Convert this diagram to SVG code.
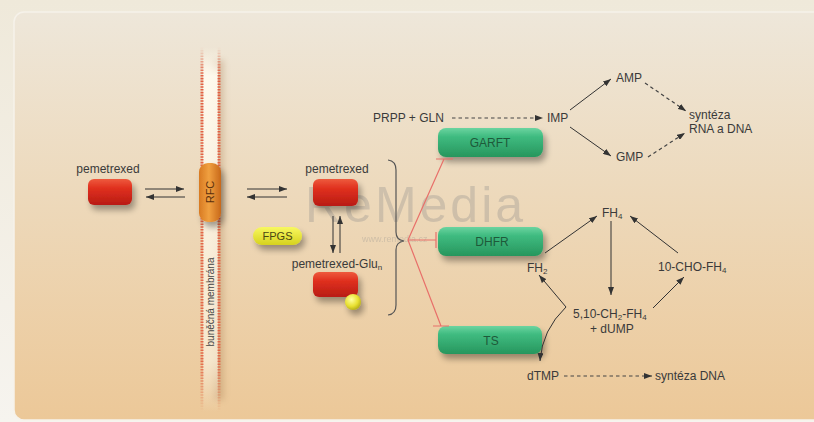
<svg xmlns="http://www.w3.org/2000/svg" width="814" height="422" viewBox="0 0 814 422">
<defs>
<linearGradient id="bgOuter" x1="0" y1="0" x2="0" y2="1"><stop offset="0" stop-color="#efe9da"/><stop offset="1" stop-color="#f6f4ef"/></linearGradient>
<linearGradient id="panel" x1="0" y1="0" x2="0" y2="1"><stop offset="0" stop-color="#eee7da"/><stop offset="0.45" stop-color="#edd9bb"/><stop offset="1" stop-color="#ecc898"/></linearGradient>
<linearGradient id="red" x1="0" y1="0" x2="0" y2="1"><stop offset="0" stop-color="#ee5a3c"/><stop offset="0.35" stop-color="#e0301f"/><stop offset="1" stop-color="#b81c14"/></linearGradient>
<linearGradient id="green" x1="0" y1="0" x2="0" y2="1"><stop offset="0" stop-color="#6bd4a0"/><stop offset="0.3" stop-color="#3fbb80"/><stop offset="1" stop-color="#27965d"/></linearGradient>
<linearGradient id="orange" x1="0" y1="0" x2="1" y2="0"><stop offset="0" stop-color="#d87a22"/><stop offset="0.45" stop-color="#f0a040"/><stop offset="1" stop-color="#c8681a"/></linearGradient>
<linearGradient id="yellow" x1="0" y1="0" x2="0" y2="1"><stop offset="0" stop-color="#f8f860"/><stop offset="1" stop-color="#d6d21e"/></linearGradient>
<radialGradient id="ball" cx="0.4" cy="0.35" r="0.7"><stop offset="0" stop-color="#ffffa0"/><stop offset="0.6" stop-color="#e8e030"/><stop offset="1" stop-color="#b0a818"/></radialGradient>
<linearGradient id="memFade" gradientUnits="userSpaceOnUse" x1="0" y1="47" x2="0" y2="412"><stop offset="0" stop-color="#e2583a" stop-opacity="0"/><stop offset="0.08" stop-color="#e2583a" stop-opacity="0.95"/><stop offset="0.86" stop-color="#e2583a" stop-opacity="0.85"/><stop offset="1" stop-color="#e2583a" stop-opacity="0"/></linearGradient>
<linearGradient id="memFill" gradientUnits="userSpaceOnUse" x1="0" y1="47" x2="0" y2="412"><stop offset="0" stop-color="#fffaee" stop-opacity="0"/><stop offset="0.08" stop-color="#fffaee" stop-opacity="0.95"/><stop offset="0.86" stop-color="#f8ecd6" stop-opacity="0.8"/><stop offset="1" stop-color="#f8ecd6" stop-opacity="0"/></linearGradient>
<filter id="sh" x="-30%" y="-30%" width="170%" height="190%"><feGaussianBlur in="SourceAlpha" stdDeviation="3"/><feOffset dx="3" dy="5"/><feComponentTransfer><feFuncA type="linear" slope="0.35"/></feComponentTransfer><feMerge><feMergeNode/><feMergeNode in="SourceGraphic"/></feMerge></filter>
<filter id="memsh" x="-100%" y="-10%" width="300%" height="120%"><feGaussianBlur stdDeviation="3"/></filter>
<marker id="arr" markerWidth="8" markerHeight="6" refX="8" refY="3" orient="auto" markerUnits="userSpaceOnUse"><path d="M0,0 L8,3 L0,6 z" fill="#333"/></marker>
<style>
.t{font-family:"Liberation Sans",Arial,sans-serif;font-size:12px;fill:#3a3a3a}
.bl{font-family:"Liberation Sans",Arial,sans-serif;font-size:12px;fill:#1e5a3a;text-anchor:middle}
.ln{stroke:#333;stroke-width:1;fill:none}
.ar{stroke:#333;stroke-width:1;fill:none;marker-end:url(#arr)}
.da{stroke:#444;stroke-width:1.2;fill:none;stroke-dasharray:3.5 3;marker-end:url(#arr)}
.inh{stroke:#e8706a;stroke-width:1.2;fill:none}
.sub{font-size:8px}
.mem{stroke:url(#memFade);stroke-width:3;stroke-dasharray:1.6 1.2}
</style>
</defs>
<rect x="0" y="0" width="814" height="422" fill="url(#bgOuter)"/>
<rect x="14" y="12" width="820" height="408" rx="10" fill="url(#panel)" stroke="#f6f2ea" stroke-width="1.5"/>

<g id="watermark" opacity="0.3">
<text x="305" y="222" font-family="Liberation Sans,Arial,sans-serif" font-size="50" letter-spacing="3" fill="#888">ReMedia</text>
<text x="362" y="242" font-family="Liberation Sans,Arial,sans-serif" font-size="9" fill="#888">www.remedia.cz</text>
</g>

<g id="membrane">
<rect x="214" y="60" width="10" height="340" fill="#a07850" opacity="0.3" filter="url(#memsh)"/>
<rect x="203" y="47" width="15" height="365" fill="url(#memFill)"/>
<line class="mem" x1="202" y1="47" x2="202" y2="412"/>
<line class="mem" x1="219" y1="47" x2="219" y2="412"/>
<text transform="translate(214,302) rotate(-90)" text-anchor="middle" font-family="Liberation Sans,Arial,sans-serif" font-size="10" fill="#444">buněčná membrána</text>
</g>

<g id="rfc">
<rect x="199" y="163" width="22" height="59" rx="9" fill="url(#orange)" filter="url(#sh)"/>
<text transform="translate(214,192) rotate(-90)" text-anchor="middle" font-family="Liberation Sans,Arial,sans-serif" font-size="11" fill="#5a2e0c">RFC</text>
</g>

<g id="pemetrexed-out">
<text class="t" x="108" y="173" text-anchor="middle">pemetrexed</text>
<rect x="88" y="179" width="44" height="26" rx="6" fill="url(#red)" filter="url(#sh)"/>
</g>

<g id="pemetrexed-in">
<text class="t" x="337" y="173" text-anchor="middle">pemetrexed</text>
<rect x="313" y="179" width="45" height="27" rx="6" fill="url(#red)" filter="url(#sh)"/>
</g>

<g id="fpgs">
<rect x="253" y="227" width="49" height="18" rx="9" fill="url(#yellow)" filter="url(#sh)"/>
<text x="277.5" y="240" text-anchor="middle" font-family="Liberation Sans,Arial,sans-serif" font-size="11" fill="#4a4612">FPGS</text>
</g>

<g id="pemetrexed-glu">
<text class="t" x="337" y="268" text-anchor="middle">pemetrexed-Glu<tspan class="sub" dy="2">n</tspan></text>
<rect x="313" y="272" width="45" height="25" rx="6" fill="url(#red)" filter="url(#sh)"/>
<circle cx="353" cy="302" r="8" fill="url(#ball)" filter="url(#sh)"/>
</g>

<g id="garft">
<rect x="438" y="128" width="105" height="29" rx="8" fill="url(#green)" filter="url(#sh)"/>
<text class="bl" x="490" y="147">GARFT</text>
</g>
<g id="dhfr">
<rect x="438" y="227" width="105" height="29" rx="8" fill="url(#green)" filter="url(#sh)"/>
<text class="bl" x="492" y="246">DHFR</text>
</g>
<g id="ts">
<rect x="438" y="326" width="104" height="28" rx="8" fill="url(#green)" filter="url(#sh)"/>
<text class="bl" x="491" y="345">TS</text>
</g>

<g id="labels">
<text class="t" x="373" y="122">PRPP + GLN</text>
<text class="t" x="547" y="122">IMP</text>
<text class="t" x="616" y="82">AMP</text>
<text class="t" x="616" y="161">GMP</text>
<text class="t" x="689" y="119">syntéza</text>
<text class="t" x="689" y="133">RNA a DNA</text>
<text class="t" x="602" y="217">FH<tspan class="sub" dy="2">4</tspan></text>
<text class="t" x="527" y="272">FH<tspan class="sub" dy="2">2</tspan></text>
<text class="t" x="658" y="271">10-CHO-FH<tspan class="sub" dy="2">4</tspan></text>
<text class="t" x="573" y="318">5,10-CH<tspan class="sub" dy="1.5">2</tspan><tspan dy="-1.5">-FH</tspan><tspan class="sub" dy="1.5">4</tspan></text>
<text class="t" x="590" y="333">+ dUMP</text>
<text class="t" x="527" y="380">dTMP</text>
<text class="t" x="655" y="380">syntéza DNA</text>
</g>

<g id="connectors">
<line class="ar" x1="145" y1="189" x2="184" y2="189"/>
<line class="ar" x1="185" y1="197" x2="146" y2="197"/>
<line class="ar" x1="247" y1="189" x2="287" y2="189"/>
<line class="ar" x1="287" y1="197" x2="247" y2="197"/>
<line class="ar" x1="333" y1="216" x2="333" y2="253"/>
<line class="ar" x1="340" y1="253" x2="340" y2="216"/>
<path d="M388,160 Q396,161 396,170 L396,232 Q396,240 404,241 Q396,242 396,250 L396,305 Q396,314 388,315" stroke="#555" stroke-width="1.2" fill="none"/>
<path class="inh" d="M408,240 L444,159 M436,159 L453,159"/>
<path class="inh" d="M408,240 L436,240 M436,232 L436,248"/>
<path class="inh" d="M408,240 L441,326 M433,326 L449,326"/>
<line class="da" x1="452" y1="118" x2="543" y2="118"/>
<line class="ar" x1="570" y1="110" x2="611" y2="79"/>
<line class="ar" x1="570" y1="127" x2="611" y2="156"/>
<line class="da" x1="645" y1="83" x2="686" y2="111"/>
<line class="da" x1="648" y1="157" x2="685" y2="133"/>
<line class="ar" x1="545" y1="253" x2="597" y2="216"/>
<line class="ar" x1="611" y1="221" x2="611" y2="295"/>
<line class="ar" x1="678" y1="253" x2="630" y2="216"/>
<line class="ar" x1="653" y1="308" x2="684" y2="277"/>
<line class="ar" x1="566" y1="307" x2="539" y2="275"/>
<path class="ar" d="M566,307 Q542,330 540,361"/>
<line class="da" x1="564" y1="376" x2="652" y2="376"/>
</g>
</svg>
